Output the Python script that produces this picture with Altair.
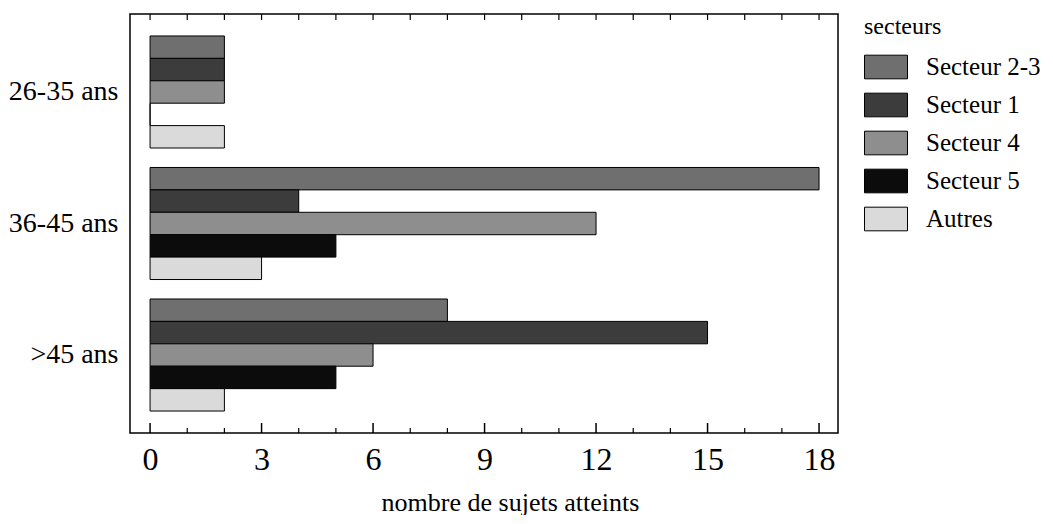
import altair as alt
import pandas as pd

ages = ["26-35 ans", "36-45 ans", ">45 ans"]
secteurs = ["Secteur 2-3", "Secteur 1", "Secteur 4", "Secteur 5", "Autres"]
s23 = [2, 18, 8]
s1 = [2, 4, 15]
s4 = [2, 12, 6]
s5 = [0, 5, 5]
autres = [2, 3, 2]
colors = ["#6f6f6f", "#3c3c3c", "#8e8e8e", "#0c0c0c", "#dadada"]
major_ticks = [0, 3, 6, 9, 12, 15, 18]
minor_ticks = [1, 2, 4, 5, 7, 8, 10, 11, 13, 14, 16, 17]
all_ticks = list(range(19))

rows = []
for s, vals in zip(secteurs, [s23, s1, s4, s5, autres]):
    for a, v in zip(ages, vals):
        rows.append({"age": a, "secteur": s, "n": v})
df = pd.DataFrame(rows)

W, H = 708, 419
FONT = "Liberation Serif"
XTITLE = "nombre de sujets atteints"
xscale = alt.Scale(domain=[-0.54, 18.51], nice=False, zero=False)
xaxis = alt.Axis(values=major_ticks, format="d", domain=False, ticks=False, tickSize=0,
                 grid=False, labelFlush=False, labelFontSize=32, labelFont=FONT,
                 labelColor="black", labelPadding=11,
                 title=XTITLE, titleFont=FONT, titleFontSize=26,
                 titleFontWeight="normal", titleColor="black", titleX=380, titleY=77,
                 titleBaseline="alphabetic")

bars = alt.Chart(df).mark_bar(stroke="black", strokeWidth=1, opacity=1).encode(
    x=alt.X("n:Q", scale=xscale, stack=None, axis=xaxis, title=XTITLE),
    y=alt.Y(
        "age:N", sort=ages,
        scale=alt.Scale(paddingInner=0.148, paddingOuter=0.167),
        axis=alt.Axis(title=None, ticks=False, domain=False, labelFontSize=28,
                      labelPadding=12, labelFont=FONT, labelColor="black"),
    ),
    yOffset=alt.YOffset("secteur:N", sort=secteurs,
                        scale=alt.Scale(paddingInner=0, paddingOuter=0)),
    color=alt.Color(
        "secteur:N", sort=secteurs,
        scale=alt.Scale(domain=secteurs, range=colors),
        legend=alt.Legend(title="secteurs", orient="none", legendX=734, legendY=1,
                          titleFont=FONT, titleFontSize=24, titleFontWeight="normal",
                          titleColor="black", labelFont=FONT, labelFontSize=25,
                          labelColor="black", symbolType="M-1,-0.55H1V0.55H-1Z",
                          symbolSize=1849, symbolStrokeColor="black", symbolStrokeWidth=1,
                          symbolOpacity=1, labelOffset=18, rowPadding=2,
                          titlePadding=6, padding=0),
    ),
)

bottom_major = alt.Chart(pd.DataFrame({"t": major_ticks})).mark_rule(color="black", strokeWidth=1.5).encode(
    x=alt.X("t:Q", scale=xscale, axis=xaxis, title=XTITLE), y=alt.value(H), y2=alt.value(H - 10))
bottom_minor = alt.Chart(pd.DataFrame({"t": minor_ticks})).mark_rule(color="black", strokeWidth=1.2).encode(
    x=alt.X("t:Q", scale=xscale, axis=xaxis, title=XTITLE), y=alt.value(H), y2=alt.value(H - 5))
top_all = alt.Chart(pd.DataFrame({"t": all_ticks})).mark_rule(color="black", strokeWidth=1.2).encode(
    x=alt.X("t:Q", scale=xscale, axis=xaxis, title=XTITLE), y=alt.value(0), y2=alt.value(6))

chart = alt.layer(bars, bottom_major, bottom_minor, top_all).properties(
    width=W, height=H,
    autosize=alt.AutoSizeParams(type="none"),
    padding={"left": 122, "top": 6, "right": 206, "bottom": 82},
    background="white",
).configure_view(stroke="black", strokeWidth=1.5)

chart.save("out.html", embed_options={"renderer": "svg", "actions": False})
